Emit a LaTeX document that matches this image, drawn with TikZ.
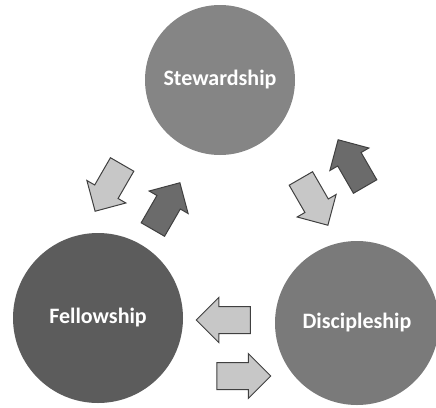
\documentclass[tikz,border=0pt]{standalone}
\usepackage{fontspec}
\setmainfont{Carlito}
\usetikzlibrary{shapes.arrows}
\tikzset{
  bigcircle/.style={circle, inner sep=0pt, text=white, font=\fontsize{22}{24}\selectfont\bfseries},
  lightarrow/.style={single arrow, draw=black!75, line width=1pt, fill=black!22,
    minimum height=54pt, inner sep=13pt, single arrow head extend=9pt, single arrow tip angle=90},
  darkarrow/.style={lightarrow, fill=black!58}
}
\begin{document}
\begin{tikzpicture}[x=1pt,y=-1pt]
\useasboundingbox (0,0) rectangle (436,407);
\node[bigcircle, fill=black!48, minimum size=150pt] (top) at (220,80) {Stewardship};
\node[bigcircle, fill=black!64, minimum size=170pt] (fel) at (98,318) {Fellowship};
\node[bigcircle, fill=black!52, minimum size=164pt] (dis) at (357,323) {Discipleship};
% left pair
\node[lightarrow, rotate=-120] (a1) at (112,182) {};
\node[darkarrow, rotate=60] (a2) at (163,212) {};
% right pair
\node[lightarrow, rotate=-60] (a3) at (311,196) {};
\node[darkarrow, rotate=120] (a4) at (355,169) {};
% bottom pair
\node[lightarrow, rotate=180] (a5) at (230,320) {};
\node[lightarrow] (a6) at (237,376) {};
\end{tikzpicture}
\end{document}
